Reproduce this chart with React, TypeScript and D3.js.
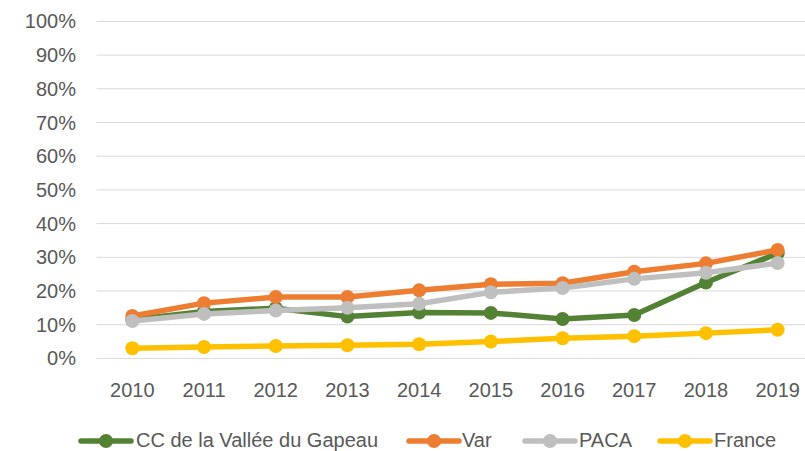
import React from "react";
import * as d3 from "d3";

const years = ["2010","2011","2012","2013","2014","2015","2016","2017","2018","2019"];
const ccGapeau = [11.5, 13.9, 14.9, 12.4, 13.6, 13.5, 11.7, 12.9, 22.5, 31.2];
const varDept = [12.6, 16.4, 18.2, 18.2, 20.2, 22.0, 22.3, 25.7, 28.2, 32.2];
const paca = [11.1, 13.2, 14.2, 15.0, 16.2, 19.6, 20.9, 23.6, 25.4, 28.3];
const france = [3.0, 3.4, 3.7, 3.9, 4.2, 5.0, 6.0, 6.6, 7.5, 8.5];
const yTicks = [0, 10, 20, 30, 40, 50, 60, 70, 80, 90, 100];

const seriesNames = ["CC de la Vallée du Gapeau", "Var", "PACA", "France"];
const seriesColors = ["#548235", "#ED7D31", "#BFBFBF", "#FFC000"];
const seriesData = [ccGapeau, varDept, paca, france];

const W = 805, H = 451;
const left = 96.5, right = 813.5, top = 21.4, bottom = 358.4;

export default function App() {
  const x = d3.scaleBand<string>().domain(years).range([left, right]).padding(0);
  const y = d3.scaleLinear().domain([0, 100]).range([bottom, top]);
  const cx = (yr: string) => (x(yr) as number) + x.bandwidth() / 2;
  const line = d3.line<number>().x((_, i) => cx(years[i])).y(d => y(d));
  const font = "'Liberation Sans', Arial, sans-serif";
  const legendItems = [
    { lx: 79, tx: 136 },
    { lx: 407, tx: 462 },
    { lx: 523, tx: 579 },
    { lx: 658, tx: 714 },
  ];
  return (
    <svg width={W} height={H} style={{ position: "absolute", left: 0, top: 0, background: "#fff" }}>
      {yTicks.map(t => (
        <g key={t}>
          <line x1={left} x2={W} y1={y(t)} y2={y(t)} stroke="#D9D9D9" strokeWidth={1} />
          <text x={76} y={y(t)} dy="0.35em" textAnchor="end" fontFamily={font} fontSize={20} fill="#595959">{t}%</text>
        </g>
      ))}
      {years.map(yr => (
        <text key={yr} x={cx(yr)} y={396.5} textAnchor="middle" fontFamily={font} fontSize={20} fill="#595959">{yr}</text>
      ))}
      {seriesData.map((s, k) => (
        <g key={k}>
          <path d={line(s) as string} fill="none" stroke={seriesColors[k]} strokeWidth={5.5} strokeLinejoin="round" />
          {s.map((v, i) => (
            <circle key={i} cx={cx(years[i])} cy={y(v)} r={7} fill={seriesColors[k]} />
          ))}
        </g>
      ))}
      {seriesNames.map((n, k) => (
        <g key={n}>
          <line x1={legendItems[k].lx + 2} x2={legendItems[k].lx + 52} y1={441} y2={441} stroke={seriesColors[k]} strokeWidth={5.5} strokeLinecap="round" />
          <circle cx={legendItems[k].lx + 27} cy={441} r={7} fill={seriesColors[k]} />
          <text x={legendItems[k].tx} y={446.5} fontFamily={font} fontSize={20} fill="#595959">{n}</text>
        </g>
      ))}
    </svg>
  );
}
